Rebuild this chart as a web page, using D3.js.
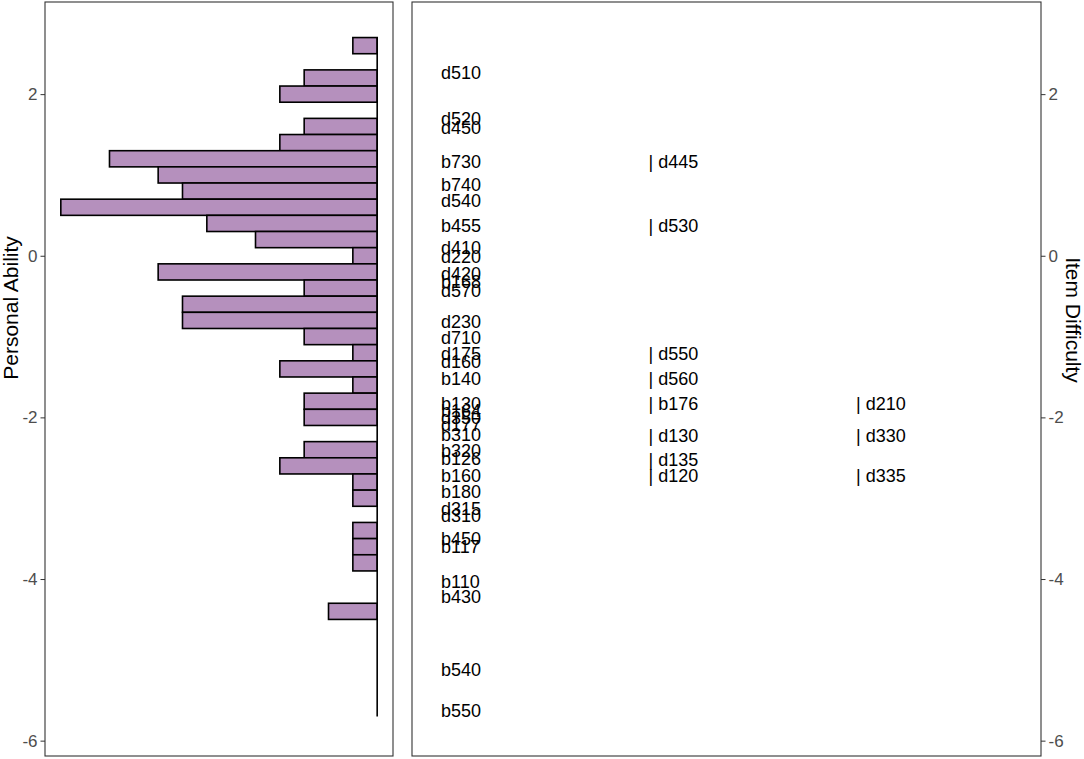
<!DOCTYPE html>
<html>
<head>
<meta charset="utf-8">
<script src="https://cdn.jsdelivr.net/npm/d3@7"></script>
<style>
  body { margin: 0; background: #fff; }
  text { font-family: "Liberation Sans", Arial, sans-serif; }
</style>
</head>
<body>
<div id="chart"></div>
<script>
// person ability histogram (bin centres, bin width 0.2)
var binMid = [2.6, 2.4, 2.2, 2.0, 1.8, 1.6, 1.4, 1.2, 1.0, 0.8, 0.6, 0.4, 0.2, 0.0,
              -0.2, -0.4, -0.6, -0.8, -1.0, -1.2, -1.4, -1.6, -1.8, -2.0, -2.2, -2.4,
              -2.6, -2.8, -3.0, -3.2, -3.4, -3.6, -3.8, -4.0, -4.2, -4.4, -4.6, -4.8,
              -5.0, -5.2, -5.4, -5.6];
var binCount = [1, 0, 3, 4, 0, 3, 4, 11, 9, 8, 13, 7, 5, 1,
                9, 3, 8, 8, 3, 1, 4, 1, 3, 3, 0, 3,
                4, 1, 1, 0, 1, 1, 1, 0, 0, 2, 0, 0,
                0, 0, 0, 0];

// item difficulties, column 0 = first label, 1/2 = extra labels on same row
var itemName = ["d510", "d520", "d450", "b730", "b740", "d540", "b455", "d410", "d220",
                "d420", "b168", "d570", "d230", "d710", "d175", "d160", "b140", "b130",
                "b164", "d350", "d177", "b310", "b320", "b126", "b160", "b180", "d315",
                "d310", "b450", "b117", "b110", "b430", "b540", "b550",
                "d445", "d530", "d550", "d560", "b176", "d130", "d135", "d120",
                "d210", "d330", "d335"];
var itemDiff = [2.26, 1.69, 1.58, 1.16, 0.87, 0.68, 0.37, 0.09, -0.01,
                -0.22, -0.32, -0.43, -0.82, -1.02, -1.21, -1.32, -1.53, -1.83,
                -1.92, -2.01, -2.10, -2.22, -2.42, -2.52, -2.73, -2.92, -3.13,
                -3.22, -3.51, -3.61, -4.04, -4.22, -5.13, -5.63,
                1.16, 0.37, -1.21, -1.53, -1.83, -2.23, -2.53, -2.72,
                -1.83, -2.23, -2.73];
var itemCol = [0, 0, 0, 0, 0, 0, 0, 0, 0,
               0, 0, 0, 0, 0, 0, 0, 0, 0,
               0, 0, 0, 0, 0, 0, 0, 0, 0,
               0, 0, 0, 0, 0, 0, 0,
               1, 1, 1, 1, 1, 1, 1, 1,
               2, 2, 2];

var yTicks = [2, 0, -2, -4, -6];

var W = 1084, H = 759;
var plotTop = 2, plotBottom = 756;
var left1 = 45, right1 = 393;   // ability panel
var left2 = 412, right2 = 1041; // item panel
var halfBin = 0.1;

var svg = d3.select("#chart").append("svg")
    .attr("width", W)
    .attr("height", H);

var yScale = d3.scaleLinear()
    .domain([-6.19, 3.14])
    .range([plotBottom, plotTop]);

// counts go leftwards, with 5% padding like ggplot
var maxCount = d3.max(binCount);
var xLeft = d3.scaleLinear()
    .domain([-maxCount * 0.05, maxCount * 1.05])
    .range([right1, left1]);

var xRight = d3.scaleLinear()
    .domain([0, 2])
    .range([441, 856]);

// ---- left panel ----
var bins = binMid.map(function(m, i) { return {mid: m, n: binCount[i]}; });

svg.append("g")
    .selectAll("rect")
    .data(bins.filter(function(d) { return d.n > 0; }))
    .join("rect")
    .attr("x", function(d) { return xLeft(d.n); })
    .attr("width", function(d) { return xLeft(0) - xLeft(d.n); })
    .attr("y", function(d) { return yScale(d.mid + halfBin); })
    .attr("height", function(d) { return yScale(d.mid - halfBin) - yScale(d.mid + halfBin); })
    .attr("fill", "#b590bd")
    .attr("stroke", "#000")
    .attr("stroke-width", 1.6);

// zero line over the full bin range
svg.append("line")
    .attr("x1", xLeft(0)).attr("x2", xLeft(0))
    .attr("y1", yScale(d3.max(binMid) + halfBin))
    .attr("y2", yScale(d3.min(binMid) - halfBin))
    .attr("stroke", "#000")
    .attr("stroke-width", 1.6);

svg.append("rect")
    .attr("x", left1).attr("y", plotTop)
    .attr("width", right1 - left1).attr("height", plotBottom - plotTop)
    .attr("fill", "none")
    .attr("stroke", "#333")
    .attr("stroke-width", 1.1);

var axL = svg.append("g")
    .attr("transform", "translate(" + left1 + ",0)")
    .call(d3.axisLeft(yScale).tickValues(yTicks).tickSize(4.5).tickPadding(3)
        .tickFormat(function(d) { return String(d); }));
axL.select(".domain").remove();
axL.selectAll(".tick line").attr("stroke", "#333");
axL.selectAll(".tick text")
    .attr("font-size", 17)
    .attr("font-family", "Liberation Sans, Arial, sans-serif")
    .attr("fill", "#4d4d4d");

svg.append("text")
    .attr("transform", "translate(10,308) rotate(-90)")
    .attr("text-anchor", "middle")
    .attr("dominant-baseline", "central")
    .attr("font-size", 21)
    .attr("fill", "#000")
    .text("Personal Ability");

// ---- right panel ----
svg.append("rect")
    .attr("x", left2).attr("y", plotTop)
    .attr("width", right2 - left2).attr("height", plotBottom - plotTop)
    .attr("fill", "none")
    .attr("stroke", "#333")
    .attr("stroke-width", 1.1);

var items = itemName.map(function(n, i) { return {name: n, diff: itemDiff[i], col: itemCol[i]}; });

svg.append("g")
    .selectAll("text")
    .data(items)
    .join("text")
    .attr("x", function(d) { return xRight(d.col); })
    .attr("y", function(d) { return yScale(d.diff); })
    .attr("dominant-baseline", "central")
    .attr("font-size", 18)
    .attr("fill", "#000")
    .text(function(d) { return d.col > 0 ? "| " + d.name : d.name; });

var axR = svg.append("g")
    .attr("transform", "translate(" + right2 + ",0)")
    .call(d3.axisRight(yScale).tickValues(yTicks).tickSize(4.5).tickPadding(3)
        .tickFormat(function(d) { return String(d); }));
axR.select(".domain").remove();
axR.selectAll(".tick line").attr("stroke", "#333");
axR.selectAll(".tick text")
    .attr("font-size", 17)
    .attr("font-family", "Liberation Sans, Arial, sans-serif")
    .attr("fill", "#4d4d4d");

svg.append("text")
    .attr("transform", "translate(1073,320) rotate(90)")
    .attr("text-anchor", "middle")
    .attr("dominant-baseline", "central")
    .attr("font-size", 21)
    .attr("fill", "#000")
    .text("Item Difficulty");
</script>
</body>
</html>
